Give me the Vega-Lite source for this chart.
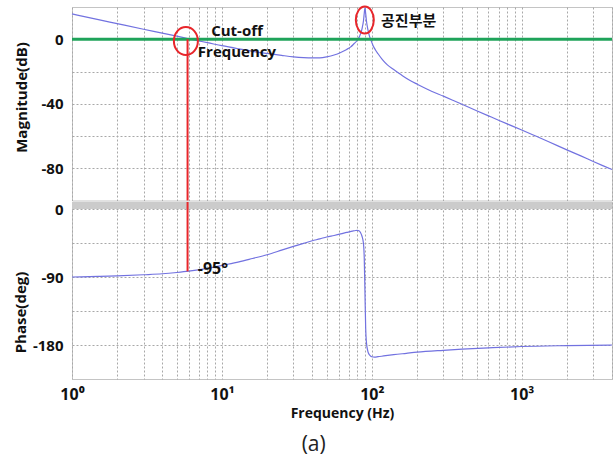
{
  "$schema": "https://vega.github.io/schema/vega-lite/v6.json",
  "background": "white",
  "padding": {"left": 12, "top": 2, "right": 2, "bottom": 2},
  "spacing": -5,
  "datasets": {
    "magnitude": [
      {"f": 1, "db": 15.7}, {"f": 1.5, "db": 12.2}, {"f": 2, "db": 9.7}, {"f": 3, "db": 6.2},
      {"f": 4, "db": 3.8}, {"f": 5, "db": 1.9}, {"f": 6, "db": 0.3}, {"f": 7, "db": -1.0},
      {"f": 8, "db": -2.1}, {"f": 10, "db": -4.0}, {"f": 13, "db": -6.0}, {"f": 16, "db": -7.5},
      {"f": 20, "db": -8.8}, {"f": 25, "db": -10.0}, {"f": 30, "db": -10.9}, {"f": 35, "db": -11.4},
      {"f": 40, "db": -11.6}, {"f": 45, "db": -11.5}, {"f": 50, "db": -10.9}, {"f": 56, "db": -9.8},
      {"f": 62, "db": -8.2}, {"f": 68, "db": -6.3}, {"f": 72, "db": -4.9}, {"f": 76, "db": -2.8},
      {"f": 80, "db": -0.6}, {"f": 83, "db": 2.0}, {"f": 86, "db": 6.5}, {"f": 88, "db": 11.6},
      {"f": 89, "db": 16.0}, {"f": 90, "db": 19.5}, {"f": 91, "db": 15.9}, {"f": 92, "db": 11.6},
      {"f": 94, "db": 6.3}, {"f": 96, "db": 2.6}, {"f": 98.5, "db": -0.4}, {"f": 102, "db": -4.0},
      {"f": 106, "db": -6.8}, {"f": 110, "db": -9.0}, {"f": 118, "db": -12.8}, {"f": 127, "db": -15.9},
      {"f": 140, "db": -18.8}, {"f": 160, "db": -22.6}, {"f": 180, "db": -25.6}, {"f": 202, "db": -28.0},
      {"f": 250, "db": -32.2}, {"f": 300, "db": -35.3}, {"f": 350, "db": -38.0}, {"f": 403, "db": -40.5},
      {"f": 500, "db": -44.3}, {"f": 600, "db": -47.5}, {"f": 700, "db": -50.2}, {"f": 800, "db": -52.5},
      {"f": 1000, "db": -56.3}, {"f": 1250, "db": -60.2}, {"f": 1500, "db": -63.4}, {"f": 2000, "db": -68.6},
      {"f": 2500, "db": -72.5}, {"f": 3000, "db": -75.8}, {"f": 3500, "db": -78.5}, {"f": 4000, "db": -80.8}
    ],
    "phase": [
      {"f": 1, "deg": -90}, {"f": 1.5, "deg": -89.2}, {"f": 2, "deg": -88.5}, {"f": 3, "deg": -87},
      {"f": 4, "deg": -85.7}, {"f": 5, "deg": -84}, {"f": 6, "deg": -82.3}, {"f": 8, "deg": -78.5},
      {"f": 10, "deg": -74.6}, {"f": 13, "deg": -70}, {"f": 16, "deg": -65.5}, {"f": 20, "deg": -60.5},
      {"f": 25, "deg": -54.5}, {"f": 30, "deg": -49.5}, {"f": 35, "deg": -45.5}, {"f": 40, "deg": -42},
      {"f": 45, "deg": -39.5}, {"f": 50, "deg": -37}, {"f": 56, "deg": -35}, {"f": 62, "deg": -33},
      {"f": 68, "deg": -31}, {"f": 74, "deg": -29.3}, {"f": 78, "deg": -28.4}, {"f": 80, "deg": -28.3},
      {"f": 82, "deg": -28.8}, {"f": 84, "deg": -31}, {"f": 86, "deg": -36}, {"f": 88, "deg": -46},
      {"f": 89, "deg": -64}, {"f": 90, "deg": -111}, {"f": 91, "deg": -158}, {"f": 92, "deg": -176},
      {"f": 94, "deg": -188}, {"f": 96, "deg": -192.5}, {"f": 98, "deg": -194.5}, {"f": 100, "deg": -195.5},
      {"f": 104, "deg": -196}, {"f": 110, "deg": -195.5}, {"f": 120, "deg": -194.5}, {"f": 140, "deg": -192.8},
      {"f": 170, "deg": -191}, {"f": 200, "deg": -189.5}, {"f": 300, "deg": -187}, {"f": 400, "deg": -185.5},
      {"f": 600, "deg": -183.8}, {"f": 1000, "deg": -182}, {"f": 2000, "deg": -180.8}, {"f": 4000, "deg": -180}
    ],
    "cutoff": [{"f": 5.9, "db": 0, "deg": -82.5}],
    "cutoffRing": [{"f": 5.75, "db": -1.1}],
    "peakRing": [{"f": 89.8, "db": 11.9}],
    "magNotes": [
      {"f": 12.6, "db": 1.8, "text": "Cut-off"},
      {"f": 12.6, "db": -11.0, "text": "Frequency"}
    ],
    "peakNote": [{"f": 176, "db": 11.2, "text": "공진부분"}],
    "phaseNote": [{"f": 6.9, "deg": -85.4, "text": "-95°"}],
    "separator": [{"f0": 1, "f1": 4000, "lo": 0, "hi": 9.3}]
  },
  "config": {
    "view": {"stroke": "#c4c4c4", "strokeWidth": 1},
    "axis": {
      "domain": false,
      "ticks": false,
      "gridColor": "#a8a8a8",
      "gridDash": [2, 2],
      "gridWidth": 1,
      "labelFont": "Open Sans",
      "labelFontWeight": "bold",
      "labelFontSize": 15,
      "labelColor": "#111111",
      "labelOverlap": false,
      "labelFlush": false,
      "titleFont": "Open Sans",
      "titleFontWeight": "bold",
      "titleFontSize": 15,
      "titleColor": "#111111"
    },
    "concat": {"spacing": -5}
  },
  "title": {
    "text": "(a)",
    "orient": "bottom",
    "anchor": "middle",
    "frame": "bounds",
    "font": "Open Sans",
    "fontSize": 21,
    "fontWeight": "normal",
    "color": "#222222",
    "offset": 13
  },
  "vconcat": [
    {
      "width": 540,
      "height": 193.5,
      "layer": [
        {
          "data": {"name": "magnitude"},
          "mark": {"type": "line", "color": "#7272e0", "strokeWidth": 1.2, "interpolate": "monotone"},
          "encoding": {
            "x": {
              "field": "f", "type": "quantitative",
              "scale": {"type": "log", "domain": [1, 4000], "nice": false},
              "axis": {
                "values": [1,2,3,4,5,6,7,8,9,10,20,30,40,50,60,70,80,90,100,200,300,400,500,600,700,800,900,1000,2000,3000,4000],
                "labels": false, "title": null, "grid": true
              }
            },
            "y": {
              "field": "db", "type": "quantitative",
              "scale": {"domain": [-100, 20], "nice": false, "zero": false},
              "axis": {
                "values": [-80, -60, -40, -20, 0],
                "labelExpr": "datum.value == -60 || datum.value == -20 ? '' : replace(datum.label, '−', '-')",
                "labelPadding": 9,
                "title": "Magnitude(dB)",
                "titleX": -51,
                "titleY": 90,
                "titleBaseline": "middle",
                "titleAlign": "center"
              }
            }
          }
        },
        {
          "data": {"values": [{"db": 0}]},
          "mark": {"type": "rule", "color": "#1fa35a", "strokeWidth": 3},
          "encoding": {"y": {"field": "db", "type": "quantitative"}}
        },
        {
          "data": {"name": "cutoff"},
          "transform": [{"calculate": "-100", "as": "floor"}],
          "mark": {"type": "rule", "color": "#e8262b", "strokeWidth": 2},
          "encoding": {
            "x": {"field": "f", "type": "quantitative"},
            "y": {"field": "db", "type": "quantitative"},
            "y2": {"field": "floor"}
          }
        },
        {
          "data": {"name": "cutoffRing"},
          "mark": {"type": "point", "shape": "M0,-1.17A1,1.17 0 1,1 0,1.17A1,1.17 0 1,1 0,-1.17Z", "size": 576, "filled": false, "color": "#e8262b", "strokeWidth": 2, "opacity": 1},
          "encoding": {
            "x": {"field": "f", "type": "quantitative"},
            "y": {"field": "db", "type": "quantitative"}
          }
        },
        {
          "data": {"name": "peakRing"},
          "mark": {"type": "point", "shape": "M0,-1.5A1,1.5 0 1,1 0,1.5A1,1.5 0 1,1 0,-1.5Z", "size": 324, "filled": false, "color": "#e8262b", "strokeWidth": 2, "opacity": 1},
          "encoding": {
            "x": {"field": "f", "type": "quantitative"},
            "y": {"field": "db", "type": "quantitative"}
          }
        },
        {
          "data": {"name": "magNotes"},
          "mark": {"type": "text", "font": "Open Sans", "fontWeight": "bold", "fontSize": 15, "align": "center", "baseline": "alphabetic", "color": "#111111"},
          "encoding": {
            "x": {"field": "f", "type": "quantitative"},
            "y": {"field": "db", "type": "quantitative"},
            "text": {"field": "text"}
          }
        },
        {
          "data": {"name": "peakNote"},
          "mark": {"type": "text", "font": "Noto Sans CJK KR", "fontWeight": "bold", "fontSize": 15, "align": "center", "baseline": "middle", "color": "#111111"},
          "encoding": {
            "x": {"field": "f", "type": "quantitative"},
            "y": {"field": "db", "type": "quantitative"},
            "text": {"field": "text"}
          }
        }
      ]
    },
    {
      "width": 540,
      "height": 177,
      "layer": [
        {
          "data": {"name": "separator"},
          "mark": {"type": "rect", "color": "#cbcbcb"},
          "encoding": {
            "x": {
              "field": "f0", "type": "quantitative",
              "scale": {"type": "log", "domain": [1, 4000], "nice": false},
              "axis": {
                "values": [1,2,3,4,5,6,7,8,9,10,20,30,40,50,60,70,80,90,100,200,300,400,500,600,700,800,900,1000,2000,3000,4000],
                "labelExpr": "datum.value == 1 ? '10⁰' : datum.value == 10 ? '10¹' : datum.value == 100 ? '10²' : datum.value == 1000 ? '10³' : ''",
                "labelFontSize": 16,
                "labelPadding": 7,
                "title": "Frequency (Hz)",
                "titleFontSize": 14,
                "titlePadding": 4,
                "grid": true
              }
            },
            "x2": {"field": "f1"},
            "y": {
              "field": "lo", "type": "quantitative",
              "scale": {"domain": [-225, 9.3], "nice": false, "zero": false},
              "axis": {
                "values": [-180, -135, -90, -45, 0],
                "labelExpr": "datum.value == -135 || datum.value == -45 ? '' : replace(datum.label, '−', '-')",
                "labelPadding": 9,
                "title": "Phase(deg)",
                "titleX": -52,
                "titleY": 110,
                "titleBaseline": "middle",
                "titleAlign": "center"
              }
            },
            "y2": {"field": "hi"}
          }
        },
        {
          "data": {"name": "phase"},
          "mark": {"type": "line", "color": "#7272e0", "strokeWidth": 1.2, "interpolate": "monotone"},
          "encoding": {
            "x": {"field": "f", "type": "quantitative"},
            "y": {"field": "deg", "type": "quantitative"}
          }
        },
        {
          "data": {"name": "cutoff"},
          "transform": [{"calculate": "9.3", "as": "ceiling"}],
          "mark": {"type": "rule", "color": "#e8262b", "strokeWidth": 2},
          "encoding": {
            "x": {"field": "f", "type": "quantitative"},
            "y": {"field": "ceiling", "type": "quantitative"},
            "y2": {"field": "deg"}
          }
        },
        {
          "data": {"name": "phaseNote"},
          "mark": {"type": "text", "font": "Open Sans", "fontWeight": "bold", "fontSize": 16, "align": "left", "baseline": "alphabetic", "color": "#111111"},
          "encoding": {
            "x": {"field": "f", "type": "quantitative"},
            "y": {"field": "deg", "type": "quantitative"},
            "text": {"field": "text"}
          }
        }
      ]
    }
  ]
}
